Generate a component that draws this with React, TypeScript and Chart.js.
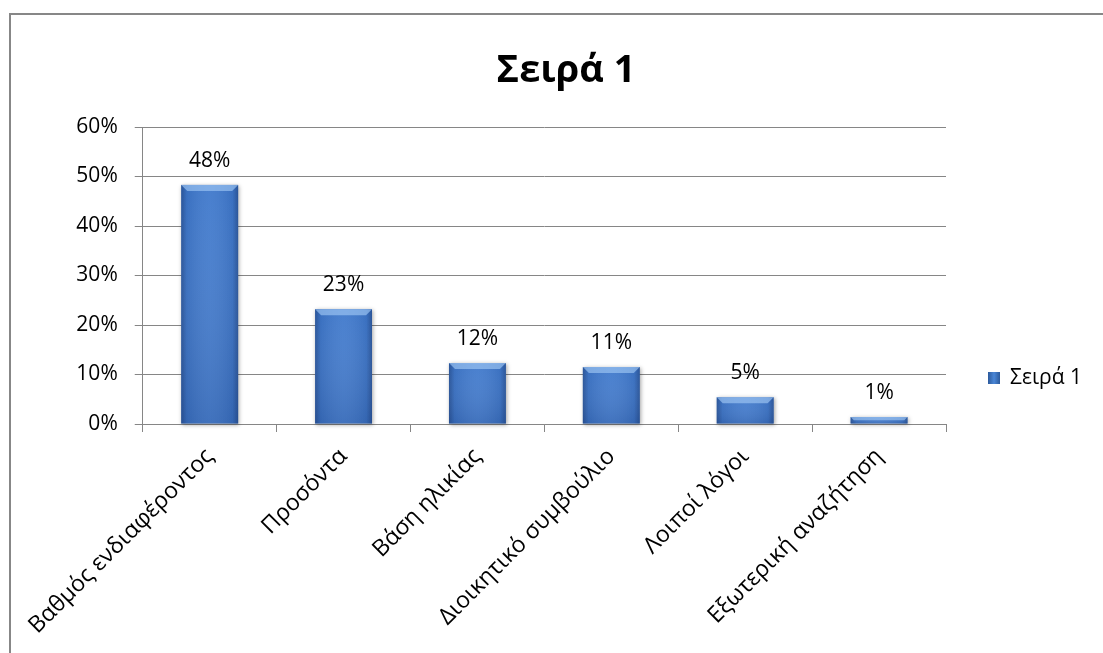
import React, { useEffect, useRef } from "react";
import { Chart, registerables } from "chart.js";

Chart.register(...registerables);

const categories = [
  "Βαθμός ενδιαφέροντος",
  "Προσόντα",
  "Βάση ηλικίας",
  "Διοικητικό συμβούλιο",
  "Λοιποί λόγοι",
  "Εξωτερική αναζήτηση",
];
const seriesName = "Σειρά 1";
const values = [0.483, 0.232, 0.123, 0.115, 0.054, 0.014];
const valueLabels = ["48%", "23%", "12%", "11%", "5%", "1%"];
const yMin = 0;
const yMax = 0.6;
const yStep = 0.1;

const FONT = "'Open Sans', 'DejaVu Sans', sans-serif";
const AXIS = "#868686";
const BAR = "#3d77cb";

const dataLabels = {
  id: "dataLabels",
  afterDatasetsDraw(chart: any) {
    const c = chart.ctx;
    c.save();
    c.font = `21px ${FONT}`;
    c.fillStyle = "#000";
    c.textAlign = "center";
    c.textBaseline = "alphabetic";
    chart.getDatasetMeta(0).data.forEach((el: any, i: number) => {
      c.fillText(valueLabels[i], el.x, el.y - 18);
    });
    c.restore();
  },
};

const barStyle = {
  id: "barStyle",
  beforeDatasetsDraw(chart: any) {
    const c = chart.ctx;
    c.save();
    chart.getDatasetMeta(0).data.forEach((el: any) => {
      const l = el.x - el.width / 2;
      const h = el.base - el.y;
      c.shadowColor = "rgba(0,0,0,0.35)";
      c.shadowBlur = 4;
      c.shadowOffsetX = 1;
      c.shadowOffsetY = 1;
      c.fillStyle = BAR;
      c.fillRect(l, el.y, el.width, h);
    });
    c.restore();
  },
  afterDatasetsDraw(chart: any) {
    const c = chart.ctx;
    chart.getDatasetMeta(0).data.forEach((el: any) => {
      const l = el.x - el.width / 2;
      const r = el.x + el.width / 2;
      const y = el.y;
      const h = el.base - el.y;
      c.save();
      const g = c.createLinearGradient(l, 0, r, 0);
      g.addColorStop(0, "rgba(25,55,110,0.55)");
      g.addColorStop(0.1, "rgba(25,55,110,0.12)");
      g.addColorStop(0.5, "rgba(255,255,255,0.06)");
      g.addColorStop(0.9, "rgba(25,55,110,0.12)");
      g.addColorStop(1, "rgba(25,55,110,0.55)");
      c.fillStyle = g;
      c.fillRect(l, y, el.width, h);
      const bv = Math.min(6, h / 2);
      c.beginPath();
      c.moveTo(l, y);
      c.lineTo(r, y);
      c.lineTo(r - bv, y + bv);
      c.lineTo(l + bv, y + bv);
      c.closePath();
      c.fillStyle = "rgba(160,200,245,0.65)";
      c.fill();
      const vg = c.createLinearGradient(0, y, 0, el.base);
      vg.addColorStop(0, "rgba(255,255,255,0)");
      vg.addColorStop(1, "rgba(20,40,90,0.15)");
      c.fillStyle = vg;
      c.fillRect(l, y, el.width, h);
      c.restore();
    });
  },
};

const sideLegend = {
  id: "sideLegend",
  afterDraw(chart: any) {
    const c = chart.ctx;
    const a = chart.chartArea;
    const ds = chart.data.datasets[0];
    const bx = a.right + 42;
    const cy = a.bottom - 46;
    c.save();
    const g = c.createLinearGradient(bx, 0, bx + 12, 0);
    g.addColorStop(0, "#2c5a9c");
    g.addColorStop(0.5, "#4a86d6");
    g.addColorStop(1, "#2c5a9c");
    c.fillStyle = g;
    c.fillRect(bx, cy - 6, 12, 12);
    c.font = `21px ${FONT}`;
    c.fillStyle = "#000";
    c.textAlign = "left";
    c.textBaseline = "middle";
    c.fillText(ds.label, bx + 22, cy);
    c.restore();
  },
};

export default function App() {
  const ref = useRef<HTMLCanvasElement>(null);
  useEffect(() => {
    if (!ref.current) return;
    const chart = new Chart(ref.current, {
      type: "bar",
      data: {
        labels: categories,
        datasets: [
          {
            label: seriesName,
            data: values,
            backgroundColor: "rgba(0,0,0,0)",
            borderWidth: 0,
            barPercentage: 1,
            categoryPercentage: 0.425,
          },
        ],
      },
      options: {
        responsive: false,
        animation: false,
        devicePixelRatio: 1,
        layout: { padding: { left: 0, right: 0, top: 0, bottom: 0 } },
        plugins: {
          legend: { display: false },
          tooltip: { enabled: false },
          title: {
            display: true,
            text: seriesName,
            color: "#000",
            font: { family: FONT, size: 38, weight: "bold" },
            padding: { top: 33, bottom: 33.4 },
          },
        },
        scales: {
          x: {
            grid: {
              display: true,
              drawOnChartArea: false,
              drawTicks: true,
              tickLength: 8,
              color: AXIS,
              offset: true,
            },
            border: { display: true, color: AXIS, width: 1 },
            ticks: {
              color: "#000",
              font: { family: FONT, size: 23 },
              minRotation: 45,
              maxRotation: 45,
              autoSkip: false,
              padding: 11,
            },
            afterFit(scale: any) {
              scale.height = 251;
            },
          },
          y: {
            min: yMin,
            max: yMax,
            grid: {
              color: AXIS,
              lineWidth: 1,
              drawTicks: true,
              tickLength: 8,
            },
            border: { display: true, color: AXIS, width: 1 },
            ticks: {
              stepSize: yStep,
              color: "#000",
              font: { family: FONT, size: 21 },
              padding: 17,
              callback: (v: any) => `${Math.round(Number(v) * 100)}%`,
            },
            afterFit(scale: any) {
              scale.width = 130;
            },
          },
          legendSpace: {
            type: "linear",
            position: "right",
            display: true,
            min: 0,
            max: 1,
            grid: { display: false, drawTicks: false },
            border: { display: false },
            ticks: { display: false },
            afterFit(scale: any) {
              scale.width = 175;
            },
          },
        },
      },
      plugins: [barStyle, dataLabels, sideLegend],
    });
    return () => chart.destroy();
  }, []);

  return (
    <div
      style={{
        position: "fixed",
        left: 0,
        top: 0,
        width: 1103,
        height: 653,
        overflow: "hidden",
        background: "#fff",
      }}
    >
      <div
        style={{
          position: "absolute",
          left: 9,
          top: 13,
          width: 1110,
          height: 660,
          border: "2px solid #878787",
        }}
      >
        <canvas
          ref={ref}
          width={1110}
          height={660}
          style={{ display: "block", width: 1110, height: 660 }}
        />
      </div>
    </div>
  );
}
